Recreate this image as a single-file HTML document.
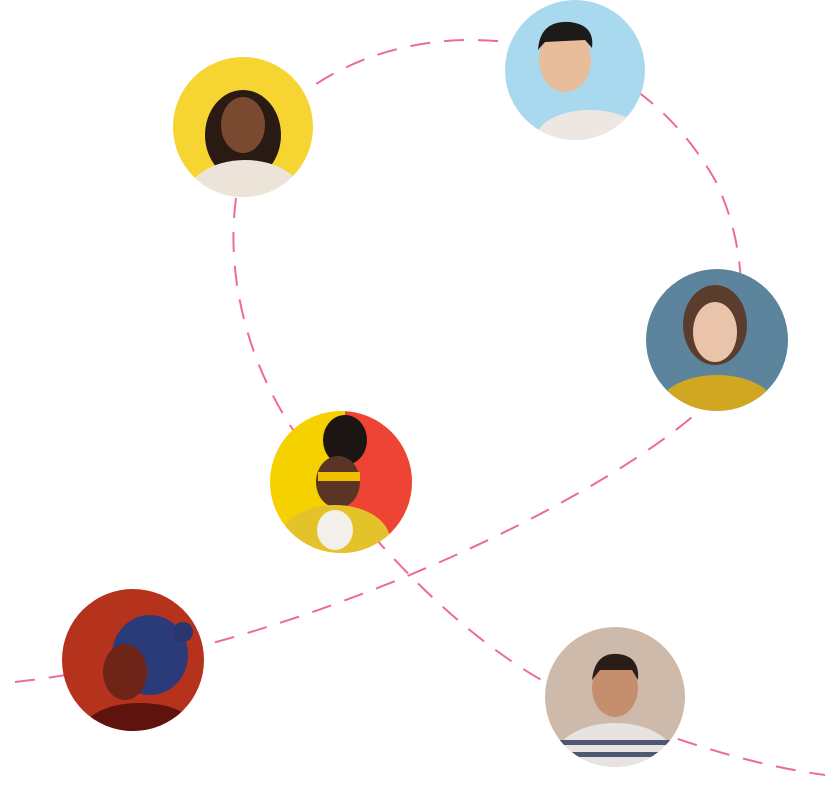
<!DOCTYPE html>
<html><head><meta charset="utf-8"><style>
html,body{margin:0;padding:0;background:#fff;}
svg{display:block}
</style></head><body>
<svg width="828" height="787" viewBox="0 0 828 787" xmlns="http://www.w3.org/2000/svg">
<defs>
<clipPath id="c1"><circle cx="243" cy="127" r="70"/></clipPath>
<clipPath id="c2"><circle cx="575" cy="70" r="70"/></clipPath>
<clipPath id="c3"><circle cx="717" cy="340" r="71"/></clipPath>
<clipPath id="c4"><circle cx="341" cy="482" r="71"/></clipPath>
<clipPath id="c5"><circle cx="133" cy="660" r="71"/></clipPath>
<clipPath id="c6"><circle cx="615" cy="697" r="70"/></clipPath>
</defs>
<g fill="none" stroke="#ec6a9c" stroke-width="2" stroke-dasharray="20 14">
<path d="M15,682 C300,650 600,500 700,410 C752,355 752,255 715,180 C675,110 600,40 470,40 C400,40 340,65 305,92"/>
<path d="M236,198 C225,280 250,370 300,440 C380,560 480,650 560,690 C650,735 750,765 825,775"/>
</g>
<g clip-path="url(#c1)">
<rect x="170" y="55" width="150" height="150" fill="#f6d431"/>
<ellipse cx="243" cy="135" rx="38" ry="45" fill="#2a1a14"/>
<ellipse cx="243" cy="125" rx="22" ry="28" fill="#7a4a30"/>
<ellipse cx="245" cy="200" rx="60" ry="40" fill="#ece4d9"/>
</g>
<g clip-path="url(#c2)">
<rect x="500" y="0" width="150" height="145" fill="#a9d9ef"/>
<ellipse cx="565" cy="60" rx="26" ry="32" fill="#e7bd9c"/>
<path d="M538,50 Q540,20 570,22 Q595,25 592,48 L585,40 L545,42 Z" fill="#1d1a1a"/>
<ellipse cx="590" cy="140" rx="55" ry="30" fill="#ede7e2"/>
</g>
<g clip-path="url(#c3)">
<rect x="640" y="265" width="155" height="150" fill="#5c849c"/>
<ellipse cx="715" cy="325" rx="32" ry="40" fill="#5a3d2c"/>
<ellipse cx="715" cy="332" rx="22" ry="30" fill="#e9c4ab"/>
<ellipse cx="717" cy="410" rx="60" ry="35" fill="#d1a620"/>
</g>
<g clip-path="url(#c4)">
<rect x="265" y="405" width="160" height="160" fill="#f5d100"/>
<rect x="345" y="405" width="80" height="160" fill="#ee4435"/>
<ellipse cx="345" cy="440" rx="22" ry="25" fill="#1b1513"/>
<ellipse cx="338" cy="482" rx="22" ry="26" fill="#5a3526"/>
<rect x="318" y="472" width="42" height="9" fill="#f3c000"/>
<ellipse cx="335" cy="540" rx="55" ry="35" fill="#e4c22a"/>
<ellipse cx="335" cy="530" rx="18" ry="20" fill="#f3f0ec"/>
</g>
<g clip-path="url(#c5)">
<rect x="60" y="585" width="150" height="150" fill="#b5321c"/>
<ellipse cx="150" cy="655" rx="38" ry="40" fill="#2b3a78"/>
<ellipse cx="125" cy="672" rx="22" ry="28" fill="#6f2418"/>
<circle cx="183" cy="632" r="10" fill="#2a3570"/>
<ellipse cx="140" cy="728" rx="55" ry="25" fill="#5e140d"/>
</g>
<g clip-path="url(#c6)">
<rect x="540" y="625" width="150" height="145" fill="#cdbaaa"/>
<ellipse cx="615" cy="688" rx="23" ry="29" fill="#c58f6e"/>
<path d="M592,680 Q595,652 618,654 Q640,656 638,680 L632,670 L600,670 Z" fill="#2a1d18"/>
<ellipse cx="615" cy="758" rx="60" ry="35" fill="#e7e3e0"/>
<rect x="560" y="740" width="110" height="5" fill="#4d5770"/>
<rect x="560" y="752" width="110" height="5" fill="#4d5770"/>
</g>
</svg>
</body></html>
